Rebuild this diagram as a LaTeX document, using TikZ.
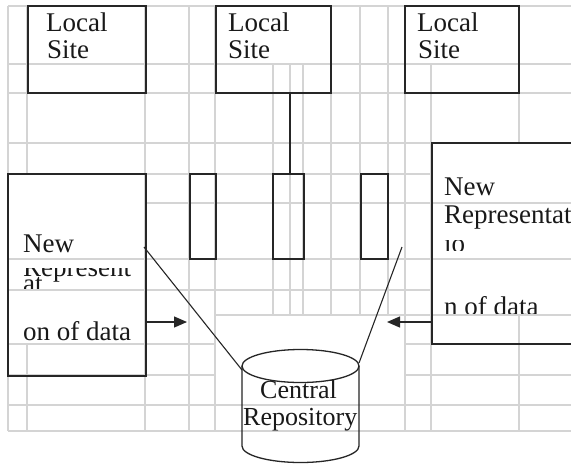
\documentclass[tikz,border=0pt]{standalone}
\usepackage{fontspec}
\setmainfont{Liberation Serif}
\usetikzlibrary{arrows.meta}
\tikzset{
  gridln/.style={draw=black!17, line width=1.1pt},
  box/.style={draw=black!85, line width=1.4pt, inner sep=0pt, minimum width=#1},
  conn/.style={draw=black!85, line width=1.3pt},
  arr/.style={draw=black!85, line width=1.3pt, -{Triangle[length=13pt,width=11pt]}},
  txt/.style={anchor=base west, inner sep=0pt, text=black!90, font=\fontsize{27}{28}\selectfont},
  ctxt/.style={txt, font=\fontsize{26}{27}\selectfont},
}
\begin{document}
\begin{tikzpicture}[x=1pt,y=-1pt]
\clip (0,0) rectangle (571,464);
\fill[white] (0,0) rectangle (571,464);
% grid: horizontal segments
\foreach \y/\a/\b in {6/8/571, 64/8/571, 93/8/571, 143/8/571, 174/8/432, 203/146/571,
  259/8/571, 290/8/432, 315/215/571, 344/8/215, 344/405/571, 375/8/215, 375/405/571,
  405/8/571, 431/8/571}
  \draw[gridln] (\a,\y) -- (\b,\y);
% grid: vertical segments
\foreach \x/\a/\b in {8/6/431, 27/6/174, 27/344/431, 145/6/431, 189/6/431, 215/6/431,
  273/64/315, 290/64/315, 303/64/315, 331/6/315, 360/6/315, 388/6/315, 405/6/431,
  431/64/431, 519/6/143, 519/315/431}
  \draw[gridln] (\x,\a) -- (\x,\b);
% boxes
\node[box=118, minimum height=87] (ls1) at (87,49.5) {};
\node[box=115, minimum height=87] (ls2) at (273.5,49.5) {};
\node[box=114, minimum height=87] (ls3) at (462,49.5) {};
\node[box=138, minimum height=202] (nl) at (77,275) {};
\node[box=158, minimum height=201] (nr) at (511,243.5) {};
\node[box=26, minimum height=85] (ra) at (203,216.5) {};
\node[box=31, minimum height=85] (rb) at (288.5,216.5) {};
\node[box=27, minimum height=85] (rc) at (374.5,216.5) {};
% texts in local sites
\node[txt] (t1a) at (46,31) {Local};
\node[txt] (t1b) at (47,58) {Site};
\node[txt] (t2a) at (228,31) {Local};
\node[txt] (t2b) at (228,58) {Site};
\node[txt] (t3a) at (417,31) {Local};
\node[txt] (t3b) at (418,58) {Site};
% left representation text
\node[txt] (l1) at (23,252) {New};
\begin{scope}
  \clip (10,268) rectangle (144,288);
  \node[txt] (l2) at (23,276) {Represent};
  \node[txt] (l3) at (23,292) {at};
\end{scope}
\begin{scope}
  \clip (10,300) rectangle (144,341);
  \node[txt] (l4) at (23,340) {on of data};
\end{scope}
% right representation text
\node[txt] (r1) at (444,195) {New};
\node[txt] (r2) at (444,223) {Representat};
\begin{scope}
  \clip (434,240) rectangle (571,250);
  \node[txt] (r3) at (444,252) {io};
\end{scope}
\begin{scope}
  \clip (434,290) rectangle (571,313);
  \node[txt] (r4) at (444,315) {n of data};
\end{scope}
% connector local site 2 -> rect b
\coordinate (cx) at (290,0);
\draw[conn] (ls2.south -| cx) -- (rb.north -| cx);
% cylinder
\draw[conn] (242,366) -- (242,446) arc[start angle=180, end angle=0, x radius=58.5, y radius=16.5] -- (359,366);
\node[ctxt, anchor=base] (c1) at (298.5,398) {Central};
\node[ctxt] (c2) at (243,425) {Repository};
\draw[conn, fill=white] (300.5,366) ellipse[x radius=58.5, y radius=16.5];
% diagonal lines
\coordinate (dl1) at (144,247);
\coordinate (dl2) at (242,370);
\coordinate (dr1) at (402,247);
\coordinate (dr2) at (359,363);
\draw[conn, line width=1.1pt] (dl1) -- (dl2);
\draw[conn, line width=1.1pt] (dr1) -- (dr2);
% arrows
\coordinate (al) at (187,322);
\coordinate (ar) at (387,322);
\draw[arr] (nl.east |- al) -- (al);
\draw[arr] (nr.west |- ar) -- (ar);
\end{tikzpicture}
\end{document}
